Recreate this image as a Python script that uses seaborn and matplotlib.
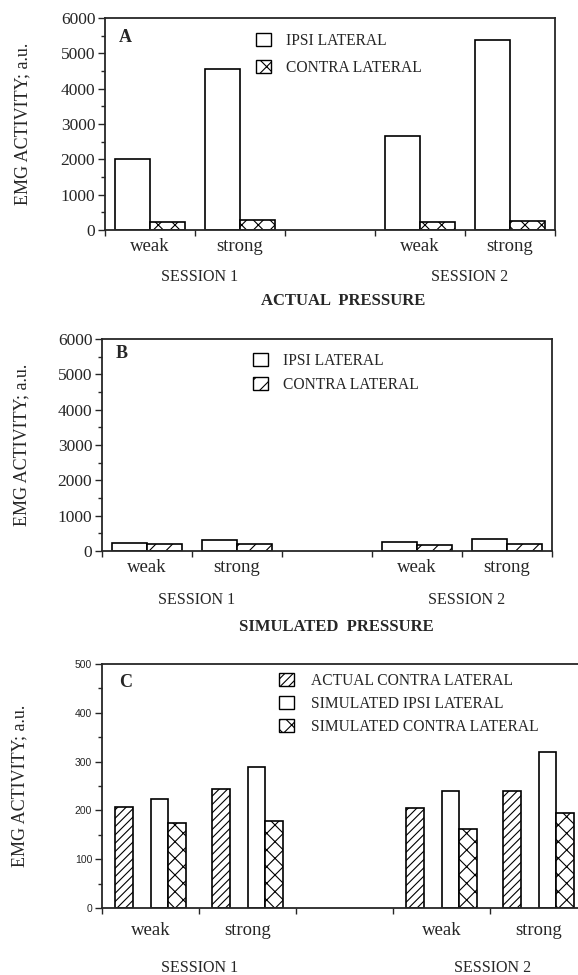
import pandas as pd
import matplotlib.pyplot as plt
import seaborn as sns
from matplotlib.patches import Patch
from matplotlib.ticker import MultipleLocator, FixedLocator

# values (a.u.)
conditions = ['S1 weak', 'S1 strong', 'S2 weak', 'S2 strong']
x_order = ['S1 weak', 'S1 strong', '', 'S2 weak', 'S2 strong']
tick_labels = ['weak', 'strong', '', 'weak', 'strong']

actual_ipsi = [2010, 4550, 2650, 5380]
actual_contra = [230, 270, 235, 255]
sim_ipsi = [225, 300, 245, 340]
sim_contra = [190, 190, 165, 205]

c_actual_contra = [206, 244, 205, 240]
c_sim_ipsi = [223, 288, 240, 319]
c_sim_contra = [174, 178, 161, 195]

sns.set_style("ticks")
plt.rcParams['font.family'] = ['Liberation Serif', 'DejaVu Serif']
plt.rcParams['hatch.linewidth'] = 0.8
plt.rcParams['hatch.color'] = 'black'


def long_df(series):
    rows = []
    for name, vals in series.items():
        for c, v in zip(conditions, vals):
            rows.append({'cond': c, 'side': name, 'emg': v})
    return pd.DataFrame(rows)


def set_hatches(ax, n_levels, width, hatches):
    slot = width / n_levels
    for p in ax.patches:
        cx = p.get_x() + p.get_width() / 2
        off = cx - round(cx)
        k = int(round((off + width / 2 - slot / 2) / slot))
        p.set_hatch(hatches[k])


def style_axes(ax, top, major, minor, tick_font, box=True):
    ax.set_ylim(0, top)
    ax.yaxis.set_major_locator(MultipleLocator(major))
    ax.yaxis.set_minor_locator(MultipleLocator(minor))
    ax.set_xlim(-0.5, 4.5)
    ax.set_xticks(range(5))
    ax.set_xticklabels(tick_labels, fontsize=13.5)
    ax.xaxis.set_minor_locator(FixedLocator([-0.5, 0.5, 1.5, 2.5, 3.5, 4.5]))
    ax.tick_params(axis='x', which='major', length=0, pad=6)
    ax.tick_params(axis='x', which='minor', length=4, width=1)
    ax.tick_params(axis='y', which='major', length=5, width=1, pad=2, **tick_font)
    ax.tick_params(axis='y', which='minor', length=3, width=1)
    for s in ax.spines.values():
        s.set_linewidth(1.3)
        s.set_visible(True)
    if not box:
        ax.spines['right'].set_visible(False)
    ax.set_xlabel('')
    ax.set_ylabel('EMG ACTIVITY; a.u.', fontsize=13)


fig = plt.figure(figsize=(5.78, 9.75), dpi=100)

# ---------- panel A: actual pressure
axA = fig.add_axes([0.1817, 0.7641, 0.7785, 0.2174])
dfA = long_df({'IPSI LATERAL': actual_ipsi, 'CONTRA LATERAL': actual_contra})
sns.barplot(data=dfA, x='cond', y='emg', hue='side', order=x_order,
            hue_order=['IPSI LATERAL', 'CONTRA LATERAL'],
            palette={'IPSI LATERAL': 'white', 'CONTRA LATERAL': 'white'},
            edgecolor='black', linewidth=1.2, width=0.78, errorbar=None,
            legend=False, ax=axA)
set_hatches(axA, 2, 0.78, ['', 'xx'])
style_axes(axA, 6000, 1000, 500, {'labelsize': 12.5})
axA.yaxis.set_label_coords(-0.163, 0.5)
axA.legend(handles=[Patch(facecolor='white', edgecolor='black', label='IPSI LATERAL'),
                    Patch(facecolor='white', edgecolor='black', hatch='xx', label='CONTRA LATERAL')],
           loc='upper left', bbox_to_anchor=(0.335, 0.93), frameon=False, fontsize=11.2,
           handlelength=0.95, handleheight=0.95, handletextpad=1.0, labelspacing=0.7,
           borderpad=0, borderaxespad=0)
axA.text(0.03, 0.91, 'A', transform=axA.transAxes, fontsize=13, fontweight='bold',
         va='center')
tr = axA.get_xaxis_transform()
axA.text(0.55, -0.22, 'SESSION 1', transform=tr, ha='center', va='center', fontsize=11.5)
axA.text(3.55, -0.22, 'SESSION 2', transform=tr, ha='center', va='center', fontsize=11.5)
axA.text(0.53, -0.335, 'ACTUAL  PRESSURE', transform=axA.transAxes, ha='center',
         va='center', fontsize=12, fontweight='bold')

# ---------- panel B: simulated pressure
axB = fig.add_axes([0.1765, 0.4349, 0.7785, 0.2174])
dfB = long_df({'IPSI LATERAL': sim_ipsi, 'CONTRA LATERAL': sim_contra})
sns.barplot(data=dfB, x='cond', y='emg', hue='side', order=x_order,
            hue_order=['IPSI LATERAL', 'CONTRA LATERAL'],
            palette={'IPSI LATERAL': 'white', 'CONTRA LATERAL': 'white'},
            edgecolor='black', linewidth=1.2, width=0.78, errorbar=None,
            legend=False, ax=axB)
set_hatches(axB, 2, 0.78, ['', '//'])
style_axes(axB, 6000, 1000, 500, {'labelsize': 12.5})
axB.yaxis.set_label_coords(-0.158, 0.5)
axB.legend(handles=[Patch(facecolor='white', edgecolor='black', label='IPSI LATERAL'),
                    Patch(facecolor='white', edgecolor='black', hatch='//', label='CONTRA LATERAL')],
           loc='upper left', bbox_to_anchor=(0.335, 0.935), frameon=False, fontsize=11.2,
           handlelength=0.95, handleheight=0.95, handletextpad=1.0, labelspacing=0.5,
           borderpad=0, borderaxespad=0)
axB.text(0.03, 0.93, 'B', transform=axB.transAxes, fontsize=13, fontweight='bold',
         va='center')
tr = axB.get_xaxis_transform()
axB.text(0.55, -0.23, 'SESSION 1', transform=tr, ha='center', va='center', fontsize=11.5)
axB.text(3.55, -0.23, 'SESSION 2', transform=tr, ha='center', va='center', fontsize=11.5)
axB.text(0.52, -0.36, 'SIMULATED  PRESSURE', transform=axB.transAxes, ha='center',
         va='center', fontsize=12, fontweight='bold')

# ---------- panel C: contralateral comparison
axC = fig.add_axes([0.1765, 0.0687, 0.8391, 0.2503])
c_levels = ['ACTUAL CONTRA LATERAL', 'blank', 'SIMULATED IPSI LATERAL',
            'SIMULATED CONTRA LATERAL']
dfC = long_df({'ACTUAL CONTRA LATERAL': c_actual_contra,
               'SIMULATED IPSI LATERAL': c_sim_ipsi,
               'SIMULATED CONTRA LATERAL': c_sim_contra})
sns.barplot(data=dfC, x='cond', y='emg', hue='side', order=x_order,
            hue_order=c_levels, palette={k: 'white' for k in c_levels},
            edgecolor='black', linewidth=1.2, width=0.74, errorbar=None,
            legend=False, ax=axC)
set_hatches(axC, 4, 0.74, ['////', '', '', 'xx'])
style_axes(axC, 500, 100, 50, {'labelsize': 7.5, 'labelfontfamily': 'Liberation Sans'},
           box=False)
axC.tick_params(axis='x', which='major', pad=10)
axC.yaxis.set_label_coords(-0.152, 0.5)
axC.legend(handles=[Patch(facecolor='white', edgecolor='black', hatch='////',
                          label='ACTUAL CONTRA LATERAL'),
                    Patch(facecolor='white', edgecolor='black', label='SIMULATED IPSI LATERAL'),
                    Patch(facecolor='white', edgecolor='black', hatch='xx',
                          label='SIMULATED CONTRA LATERAL')],
           loc='upper left', bbox_to_anchor=(0.365, 0.965), frameon=False, fontsize=11.2,
           handlelength=0.95, handleheight=0.95, handletextpad=1.1, labelspacing=0.45,
           borderpad=0, borderaxespad=0)
axC.text(0.035, 0.925, 'C', transform=axC.transAxes, fontsize=13, fontweight='bold',
         va='center')
tr = axC.get_xaxis_transform()
axC.text(0.51, -0.245, 'SESSION 1', transform=tr, ha='center', va='center', fontsize=11.5)
axC.text(3.53, -0.245, 'SESSION 2', transform=tr, ha='center', va='center', fontsize=11.5)

fig.savefig('out.png', dpi=100)
